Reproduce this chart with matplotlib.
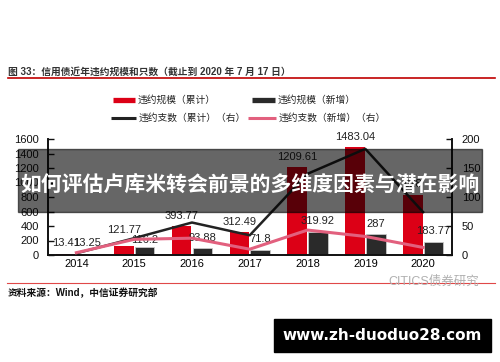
import numpy as np
import matplotlib.pyplot as plt
from matplotlib.patches import Rectangle
from matplotlib.lines import Line2D

plt.rcParams['font.family'] = ['Liberation Sans', 'Noto Sans CJK SC', 'DejaVu Sans']

# 数据（从图中读取，2020 年累计值被遮挡，为估计值）
years = ['2014', '2015', '2016', '2017', '2018', '2019', '2020']
scale_total = [13.41, 121.77, 393.77, 312.49, 1209.61, 1483.04, 828]
scale_new = [13.25, 116.2, 93.88, 71.8, 319.92, 287, 183.77]
count_total = [3, 29, 56, 34, 140, 183, 74]
count_new = [4, 27, 29, 10, 43, 32, 13]

W, H = 500, 362
fig = plt.figure(figsize=(5, 3.62), dpi=100)
fx = lambda px: px / W
fy = lambda py: 1 - py / H

ax = fig.add_axes([fx(47.5), fy(255), fx(452) - fx(47.5), fy(139) - fy(255)])
ax2 = ax.twinx()

x = np.arange(len(years))
w = 0.34
ax.bar(x - 0.18, scale_total, w, color='#dc0016', zorder=2)
ax.bar(x + 0.18, scale_new, w, color='#2a2a2a', edgecolor='#c8c8c8', linewidth=0.6, zorder=2)

# 标签偏移（点），2015 年两标签上下错开
off_total = [4, 8, 4, 4, 4, 4, 4]
off_new = [4, 1, 4, 4, 4, 4, 4]
for xi, v, o in zip(x, scale_total, off_total):
    ax.annotate(f'{v:g}', (xi - 0.18, v), xytext=(0, o), textcoords='offset points',
                ha='center', va='bottom', fontsize=8, color='#222222', annotation_clip=False)
for xi, v, o in zip(x, scale_new, off_new):
    ax.annotate(f'{v:g}', (xi + 0.18, v), xytext=(0, o), textcoords='offset points',
                ha='center', va='bottom', fontsize=8, color='#222222', annotation_clip=False)

ax2.plot(x, count_total, color='#222222', lw=1.8, zorder=3)
ax2.plot(x, count_new, color='#e2607e', lw=2.2, zorder=3)

ax.set_xlim(-0.5, len(years) - 0.5)
ax.set_ylim(0, 1600)
ax.set_yticks(range(0, 1601, 200))
ax2.set_ylim(0, 200)
ax2.set_yticks(range(0, 201, 50))
ax.set_xticks(x)
ax.set_xticklabels(years)

for a in (ax, ax2):
    a.spines['top'].set_visible(False)
    for s in ('left', 'right', 'bottom'):
        a.spines[s].set_linewidth(1.2)
        a.spines[s].set_color('#111111')
    a.tick_params(axis='y', direction='in', length=4, width=1, labelsize=8, colors='#111111')
ax.tick_params(axis='x', length=0, labelsize=8, pad=3)
ax.tick_params(axis='y', pad=6)
ax2.tick_params(axis='y', pad=7)

# 标题与分隔线
fig.text(fx(8), fy(72), '图 33：信用债近年违约规模和只数（截止到 2020 年 7 月 17 日）',
         fontsize=7, color='#333333', weight='bold', va='center')
fig.add_artist(Line2D([fx(8), fx(495)], [fy(78), fy(78)], color='#c00000', lw=1.2))

# 图例
def leg(x0, x1, y, color, lw, label):
    fig.add_artist(Line2D([fx(x0), fx(x1)], [fy(y), fy(y)], color=color, lw=lw,
                          solid_capstyle='butt'))
    fig.text(fx(x1 + 3), fy(y), label, fontsize=7, color='#222222', va='center')

leg(113, 135, 100, '#dc0016', 3.8, '违约规模（累计）')
leg(252, 275, 100, '#2a2a2a', 3.8, '违约规模（新增）')
leg(111, 136, 118, '#222222', 2.2, '违约支数（累计）（右）')
leg(248, 276, 118, '#e2607e', 2.2, '违约支数（新增）（右）')

# 来源
fig.add_artist(Line2D([fx(7), fx(495)], [fy(283), fy(283)], color='#e04848', lw=0.8))
fig.text(fx(8), fy(293), '资料来源：Wind，中信证券研究部', fontsize=7, color='#111111',
         weight='bold', va='center')
fig.text(fx(388), fy(282), 'CITICS债券研究', fontsize=9, color='#b0b0b0', va='center')

# 遮挡横幅
fig.add_artist(Rectangle((fx(18), fy(212)), fx(482) - fx(18), fy(149) - fy(212),
                         transform=fig.transFigure, color='black', alpha=0.6, zorder=10))
fig.text(0.5, fy(184), '如何评估卢库米转会前景的多维度因素与潜在影响', fontsize=15,
         color='white', weight='bold', ha='center', va='center', zorder=11,
         family=['Noto Sans CJK SC', 'DejaVu Sans'])

# 底部网址框
fig.add_artist(Rectangle((fx(274), fy(352)), fx(491) - fx(274), fy(319) - fy(352),
                         transform=fig.transFigure, color='black', zorder=10))
fig.text(fx(382.5), fy(335.5), 'www.zh-duoduo28.com', fontsize=11, color='white',
         weight='bold', ha='center', va='center', zorder=11, family='DejaVu Sans')

fig.savefig('out.png', dpi=100)
